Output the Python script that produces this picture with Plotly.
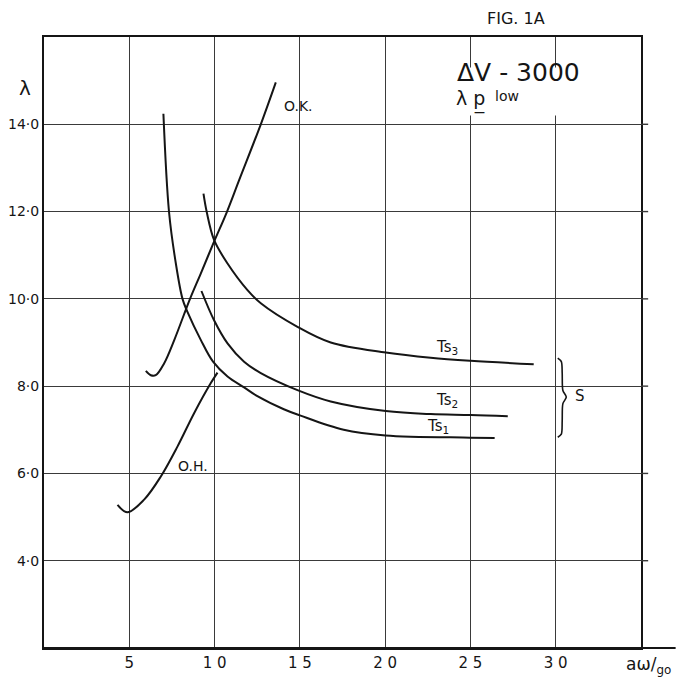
import plotly.graph_objects as go

# ---- data ----
x_ticks = [5, 10, 15, 20, 25, 30]
x_tick_labels = ["5", "1 0", "1 5", "2 0", "2 5", "3 0"]
y_ticks = [4, 6, 8, 10, 12, 14]
y_tick_labels = ["4·0", "6·0", "8·0", "10·0", "12·0", "14·0"]

ok_x = [5.97, 6.26, 6.55, 7.04, 7.63, 8.56, 9.19, 9.97, 10.72, 11.44, 12.71, 13.59]
ok_y = [8.35, 8.25, 8.25, 8.52, 9.05, 10.00, 10.58, 11.31, 11.99, 12.72, 14.00, 14.96]

oh_x = [4.31, 4.89, 5.87, 6.85, 7.83, 8.80, 9.78, 10.17]
oh_y = [5.28, 5.11, 5.40, 5.93, 6.62, 7.38, 8.07, 8.31]

ts1_x = [7.00, 7.33, 7.73, 8.12, 8.41, 9.19, 9.91, 10.76, 11.73, 12.51, 14.06, 15.00, 17.57, 20.02, 25.00, 26.42]
ts1_y = [14.24, 11.99, 10.81, 10.00, 9.70, 9.06, 8.56, 8.22, 7.97, 7.77, 7.47, 7.33, 7.00, 6.87, 6.82, 6.81]

ts2_x = [9.23, 9.97, 10.76, 11.73, 12.71, 14.86, 16.81, 20.04, 22.67, 25.02, 27.19]
ts2_y = [10.18, 9.51, 8.98, 8.56, 8.30, 7.91, 7.65, 7.43, 7.36, 7.34, 7.31]

ts3_x = [9.35, 9.54, 9.97, 10.76, 11.93, 12.71, 14.86, 16.81, 20.04, 22.67, 25.02, 28.71]
ts3_y = [12.41, 11.99, 11.35, 10.81, 10.20, 9.90, 9.36, 9.00, 8.77, 8.65, 8.58, 8.50]

brace_x = [30.12, 30.33, 30.38, 30.42, 30.62, 30.42, 30.38, 30.33, 30.12]
brace_y = [8.64, 8.56, 8.30, 7.90, 7.75, 7.60, 7.20, 6.90, 6.83]

X_RANGE = [0, 35]
Y_RANGE = [2, 16]

INK = "#151515"
GRID = "#3a3a3a"
FONT = "DejaVu Sans"

# page has an 8px body margin; compensate so the plot lands where the reference has it
OFF = 8
W, H = 686, 689
L, R, T, B = 44 - OFF, 45 + OFF, 37 - OFF, 41 + OFF
pw, ph = W - L - R, H - T - B

def px_to_paper(px, py):
    return (px - OFF - L) / pw, (H - B - (py - OFF)) / ph

fig = go.Figure()

for xs, ys in [(ok_x, ok_y), (oh_x, oh_y), (ts1_x, ts1_y), (ts2_x, ts2_y), (ts3_x, ts3_y)]:
    fig.add_trace(go.Scatter(x=xs, y=ys, mode="lines",
                             line=dict(color=INK, width=2, shape="spline", smoothing=1.0),
                             hoverinfo="skip", showlegend=False))

fig.add_trace(go.Scatter(x=brace_x, y=brace_y, mode="lines",
                         line=dict(color=INK, width=1.6, shape="spline", smoothing=0.8),
                         hoverinfo="skip", showlegend=False))

# horizontal grid lines slightly extend past the right border
for yv in y_ticks:
    fig.add_shape(type="line", xref="paper", yref="y", x0=1, x1=1.012, y0=yv, y1=yv,
                  line=dict(color=GRID, width=1.4))
# bottom axis extends to the right
fig.add_shape(type="line", xref="paper", yref="paper", x0=0, x1=1.058, y0=0, y1=0,
              line=dict(color=INK, width=2))
# erased patch of grid behind the title block
fig.add_shape(type="rect", xref="x", yref="y", x0=24.3, x1=31.2, y0=14.2, y1=15.3,
              fillcolor="white", line=dict(width=0), layer="between")

def note(text, x, y, size, xref="x", yref="y", xanchor="center"):
    fig.add_annotation(text=text, x=x, y=y, xref=xref, yref=yref, showarrow=False,
                       font=dict(family=FONT, size=size, color=INK),
                       xanchor=xanchor, yanchor="middle", borderpad=0)

def note_px(text, px, py, size, xanchor="center"):
    x, y = px_to_paper(px, py)
    note(text, x, y, size, xref="paper", yref="paper", xanchor=xanchor)

note("O.K.", 14.9, 14.43, 14)
note("O.H.", 8.72, 6.16, 14)
note("Ts<sub>3</sub>", 23.6, 8.88, 15)
note("Ts<sub>2</sub>", 23.6, 7.66, 15)
note("Ts<sub>1</sub>", 23.1, 7.07, 15)
note("S", 31.4, 7.77, 15)

note_px("ΔV - 3000", 518, 72, 25)
note_px("λ p̲", 455, 100, 19, xanchor="left")
note_px("low", 494, 96, 14, xanchor="left")
note_px("FIG. 1A", 516, 19, 16)
note_px("λ", 25, 88, 20)
note_px("aω/<sub>go</sub>", 625, 665, 17, xanchor="left")

fig.update_xaxes(range=X_RANGE, tickvals=x_ticks, ticktext=x_tick_labels,
                 showgrid=True, gridcolor=GRID, gridwidth=1.4, zeroline=False,
                 showline=True, linecolor=INK, linewidth=2, mirror=True, automargin=False,
                 ticks="", tickfont=dict(family=FONT, size=15, color=INK))
fig.update_yaxes(range=Y_RANGE, tickvals=y_ticks, ticktext=y_tick_labels,
                 showgrid=True, gridcolor=GRID, gridwidth=1.4, zeroline=False,
                 showline=True, linecolor=INK, linewidth=2, mirror=True, automargin=False,
                 ticks="", tickfont=dict(family=FONT, size=14, color=INK))

fig.update_layout(width=W, height=H, margin=dict(l=L, r=R, t=T, b=B),
                  paper_bgcolor="white", plot_bgcolor="white", showlegend=False)

fig.write_html("out.html")
